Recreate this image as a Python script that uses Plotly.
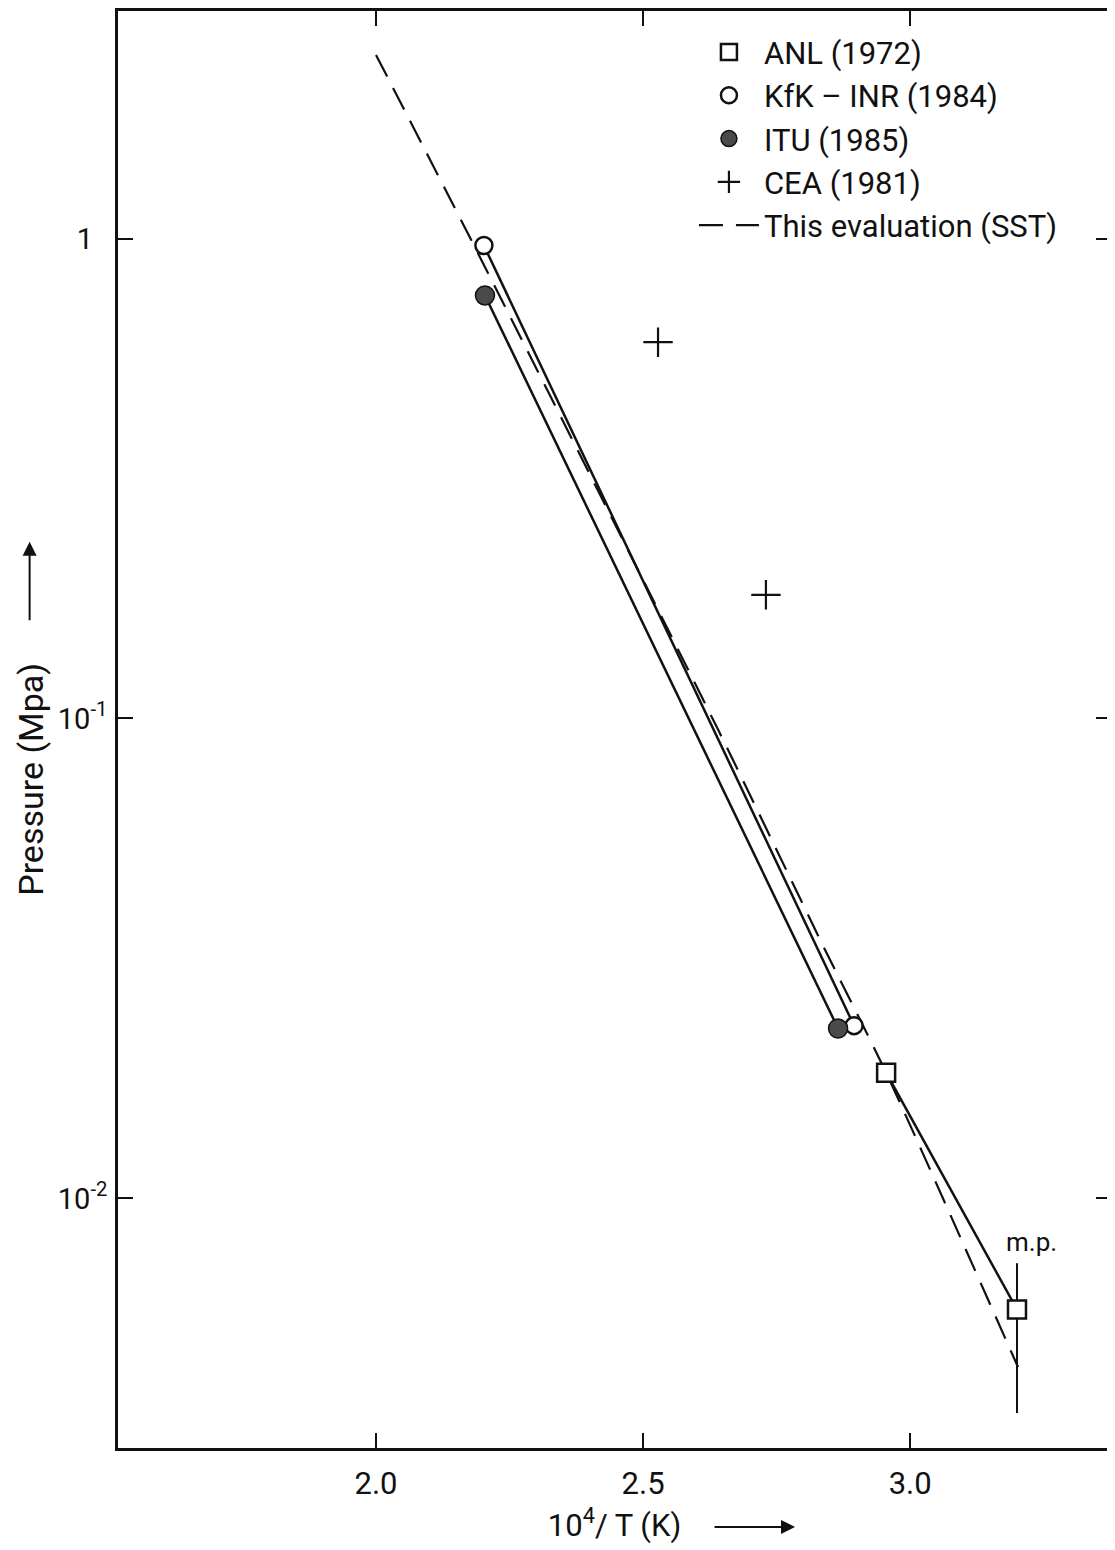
import plotly.graph_objects as go

# ---------------- data ----------------
ANL_X = [2.955, 3.200]
ANL_P = [0.01828, 0.00587]

KFK_X = [2.202, 2.895]
KFK_P = [0.967, 0.0229]

ITU_X = [2.204, 2.865]
ITU_P = [0.761, 0.0226]

CEA_X = [2.528, 2.730]
CEA_P = [0.608, 0.181]

SST_X = [2.000, 2.193, 2.642, 2.837, 2.955, 3.202]
SST_P = [2.413, 0.922, 0.0940, 0.0336, 0.01828, 0.00445]

MP_X = [3.200, 3.200]
MP_P = [0.00733, 0.00357]

X_TICKS = [2.0, 2.5, 3.0]
X_TICK_TEXT = ["2.0", "2.5", "3.0"]
Y_TICKS = [1, 0.1, 0.01]
Y_TICK_TEXT = ["1\u00a0\u00a0", "10<sup>-1</sup>", "10<sup>-2</sup>"]

FONT = "Roboto, DejaVu Sans, sans-serif"
BLACK = "#111111"

fig = go.Figure()

LINE = dict(color=BLACK, width=2.5)

# connecting solid lines (no legend)
for xs, ps in [(ANL_X, ANL_P), (KFK_X, KFK_P), (ITU_X, ITU_P)]:
    fig.add_trace(go.Scatter(x=xs, y=ps, mode="lines", line=LINE, showlegend=False,
                             hoverinfo="skip"))

fig.add_trace(go.Scatter(
    x=SST_X, y=SST_P, mode="lines", name="This evaluation (SST)", legendrank=5,
    line=dict(color=BLACK, width=2.2, dash="24px,13px", shape="spline", smoothing=0.6),
))
fig.add_trace(go.Scatter(
    x=MP_X, y=MP_P, mode="lines", showlegend=False,
    line=dict(color=BLACK, width=2),
))

fig.add_trace(go.Scatter(
    x=ANL_X, y=ANL_P, mode="markers", name="ANL (1972)", legendrank=1,
    marker=dict(symbol="square", size=18, color="white", line=dict(color=BLACK, width=2.5)),
))
fig.add_trace(go.Scatter(
    x=KFK_X, y=KFK_P, mode="markers", name="KfK – INR (1984)", legendrank=2,
    marker=dict(symbol="circle", size=17, color="white", line=dict(color=BLACK, width=2.5)),
))
fig.add_trace(go.Scatter(
    x=ITU_X, y=ITU_P, mode="markers", name="ITU (1985)", legendrank=3,
    marker=dict(symbol="circle", size=19, color="#4a4a4a", line=dict(color=BLACK, width=1.5)),
))
fig.add_trace(go.Scatter(
    x=CEA_X, y=CEA_P, mode="markers", name="CEA (1981)", legendrank=4,
    marker=dict(symbol="cross-thin-open", size=21, color=BLACK, line=dict(color=BLACK, width=2.2)),
))

fig.add_annotation(x=3.227, y=-2.09, xref="x", yref="y", text="m.p.", showarrow=False,
                   font=dict(family=FONT, size=26, color=BLACK))

# y-axis title and arrow
fig.add_annotation(x=-0.0876, y=0.465, xref="paper", yref="paper", text="Pressure (Mpa)",
                   textangle=-90, showarrow=False, xanchor="center", yanchor="middle",
                   font=dict(family=FONT, size=34, color=BLACK))
fig.add_annotation(x=-0.089, y=0.6306, xref="paper", yref="paper", text="",
                   showarrow=True, ax=0, ay=80, arrowhead=2, arrowsize=1.4, arrowwidth=2,
                   arrowcolor=BLACK)
# x-axis title arrow
fig.add_annotation(x=0.6818, y=-0.0549, xref="paper", yref="paper", text="",
                   showarrow=True, ax=-82, ay=0, arrowhead=2, arrowsize=1.4, arrowwidth=2,
                   arrowcolor=BLACK)

fig.update_layout(
    width=1115, height=1550,
    margin=dict(l=110, r=12, t=0, b=110),
    paper_bgcolor="white", plot_bgcolor="white",
    font=dict(family=FONT, size=30, color=BLACK),
    showlegend=True,
    legend=dict(x=0.58, y=0.99, xanchor="left", yanchor="top",
                bgcolor="rgba(0,0,0,0)", borderwidth=0, itemwidth=60,
                tracegroupgap=0, font=dict(family=FONT, size=31, color=BLACK)),
    xaxis=dict(
        range=[1.517, 3.376], tickvals=X_TICKS, ticktext=X_TICK_TEXT,
        ticks="inside", ticklen=15, tickwidth=2, tickcolor=BLACK,
        showline=True, linecolor=BLACK, linewidth=2.5, mirror="ticks",
        showgrid=False, zeroline=False, ticklabelstandoff=6,
        tickfont=dict(family=FONT, size=31, color=BLACK),
        title=dict(text="10<sup>4</sup>/ T (K)", standoff=14,
                   font=dict(family=FONT, size=31, color=BLACK)),
    ),
    yaxis=dict(
        type="log", range=[-2.520, 0.474], tickvals=Y_TICKS, ticktext=Y_TICK_TEXT,
        ticks="inside", ticklen=15, tickwidth=2, tickcolor=BLACK,
        showline=True, linecolor=BLACK, linewidth=2.5, mirror="ticks",
        showgrid=False, zeroline=False, ticklabelstandoff=2,
        tickfont=dict(family=FONT, size=29, color=BLACK),
    ),
)

fig.write_html("out.html")
